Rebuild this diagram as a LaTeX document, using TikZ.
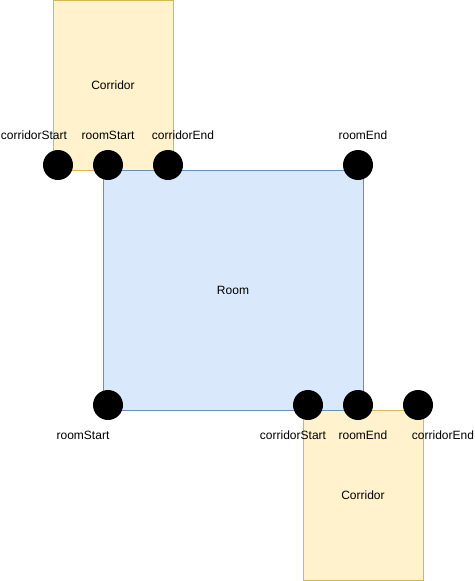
\documentclass[tikz,border=0pt]{standalone}
\usepackage{fontspec}
\setmainfont{Liberation Sans}
\usetikzlibrary{positioning}
\definecolor{corrfill}{HTML}{FFF2CC}
\definecolor{corrdraw}{HTML}{D6B656}
\definecolor{roomfill}{HTML}{DAE8FC}
\definecolor{roomdraw}{HTML}{6C8EBF}
\tikzset{
  blk/.style={draw,rectangle,line width=1pt,inner sep=0pt,font=\fontsize{12}{14}\selectfont},
  corrblk/.style={blk,fill=corrfill,draw=corrdraw,minimum width=120pt,minimum height=170pt},
  roomblk/.style={blk,fill=roomfill,draw=roomdraw,minimum width=260pt,minimum height=240pt},
  dotnode/.style={circle,fill=black,minimum size=30pt,inner sep=0pt},
  lbl/.style={font=\fontsize{12}{14}\selectfont,inner sep=0pt}
}

\begin{document}
\begin{tikzpicture}[x=1pt,y=-1pt]
  \useasboundingbox (0,0) rectangle (474,581);

  % corridors and room
  \node[corrblk] (corrA) at (113,85) {Corridor};
  \node[corrblk] (corrB) at (363,495) {Corridor};
  \node[roomblk] (room) at (233,290) {Room};

  % top side points
  \node[dotnode] (csA) at (58,165) {};
  \node[dotnode] (rsA) at (108,165) {};
  \node[dotnode] (ceA) at (168,165) {};
  \node[dotnode] (reA) at (358,165) {};
  \node[lbl] at (34,135) {corridorStart};
  \node[lbl] at (108,135) {roomStart};
  \node[lbl] at (183,135) {corridorEnd};
  \node[lbl] at (363,135) {roomEnd};

  % bottom side points
  \node[dotnode] (rsB) at (108,405) {};
  \node[dotnode] (csB) at (308,405) {};
  \node[dotnode] (reB) at (358,405) {};
  \node[dotnode] (ceB) at (418,405) {};
  \node[lbl] at (83,435) {roomStart};
  \node[lbl] at (293,435) {corridorStart};
  \node[lbl] at (363,435) {roomEnd};
  \node[lbl] at (443,435) {corridorEnd};
\end{tikzpicture}
\end{document}
